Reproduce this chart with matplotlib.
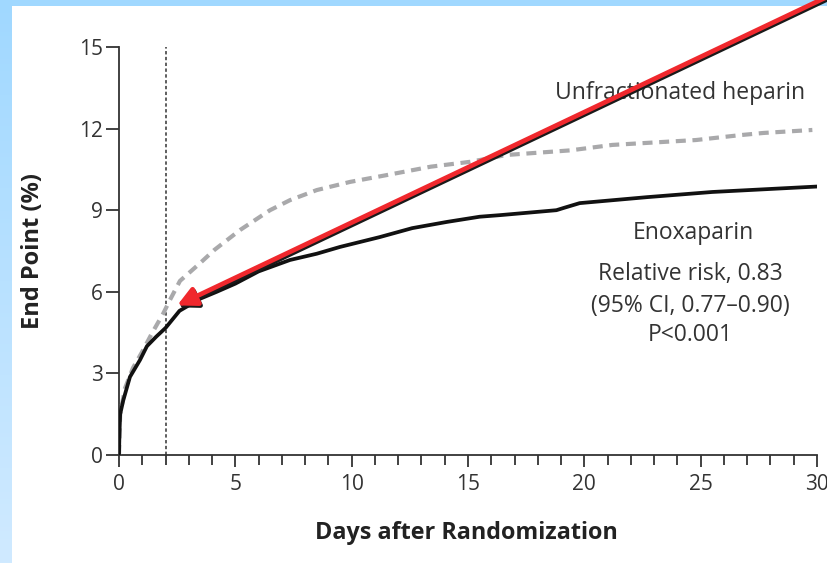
import numpy as np
import matplotlib
matplotlib.use("Agg")
import matplotlib.pyplot as plt
from matplotlib.ticker import MultipleLocator, NullLocator

# Cumulative event rates (%) by day after randomization
days_enox = [0, 0.02, 0.05, 0.18, 0.47, 0.9, 1.2, 1.6, 2.0, 2.6, 3.5, 4.2, 5.0, 6.0,
             7.35, 8.5, 9.5, 11.2, 12.6, 14.1, 15.5, 16.4, 18.8, 19.1, 19.8, 22.7,
             25.5, 30.0]
enoxaparin = [0, 0.8, 1.5, 2.0, 2.87, 3.49, 4.0, 4.35, 4.67, 5.3, 5.75, 6.0, 6.3,
              6.75, 7.17, 7.4, 7.65, 8.01, 8.34, 8.57, 8.76, 8.82, 9.0, 9.08, 9.26,
              9.48, 9.67, 9.87]

days_ufh = [0, 0.05, 0.26, 0.6, 1.0, 1.4, 1.9, 2.19, 2.62, 3.48, 4.1, 5.2, 6.49,
            7.35, 8.5, 9.93, 11.5, 13.4, 15.1, 16.66, 19.4, 21.2, 23.2, 24.8, 26.7,
            27.7, 29.8]
heparin = [0, 1.5, 2.46, 3.2, 3.8, 4.45, 5.2, 5.7, 6.4, 7.05, 7.54, 8.27, 9.0,
           9.37, 9.74, 10.04, 10.29, 10.6, 10.78, 11.03, 11.2, 11.4, 11.5, 11.58,
           11.76, 11.84, 11.95]

x_ticks = [0, 5, 10, 15, 20, 25, 30]
y_ticks = [0, 3, 6, 9, 12, 15]
cutoff_day = 2

arrow_tip = (2.5, 5.5)
arrow_tail = (30.45, 16.85)

FONT = "Open Sans"
TXT = "#333333"

fig = plt.figure(figsize=(8.27, 5.63), dpi=100)
fig.patch.set_facecolor("white")

# light-blue frame: gradient strip on the left, band along the top
W, H = 827, 563
strip = fig.add_axes([0, 0, 12 / W, 1])
grad = np.linspace(0, 1, 256).reshape(-1, 1)
top_c = np.array([160, 216, 255]) / 255
bot_c = np.array([208, 234, 255]) / 255
img = top_c[None, None, :] * (1 - grad[:, :, None]) + bot_c[None, None, :] * grad[:, :, None]
strip.imshow(img, aspect="auto", extent=[0, 1, 0, 1])
strip.set_axis_off()
band = fig.add_axes([0, 1 - 6 / H, 1, 6 / H])
band.set_facecolor(top_c)
band.set_xticks([]); band.set_yticks([])
for s in band.spines.values():
    s.set_visible(False)

ax = fig.add_axes([119 / W, 1 - 455 / H, (817 - 119) / W, (455 - 47) / H])
ax.plot(days_ufh, heparin, color="#a9a9ab", lw=3.0, dashes=(2.4, 1.6),
        solid_capstyle="butt", zorder=3)
ax.plot(days_enox, enoxaparin, color="#111111", lw=2.7, zorder=4)
ax.plot([cutoff_day, cutoff_day], [0, 15], color="#333333", lw=1.1,
        dashes=(2.2, 1.6), zorder=2, clip_on=False)
ax.set_xlim(0, 30)
ax.set_ylim(0, 15)

for s in ("top", "right"):
    ax.spines[s].set_visible(False)
for s in ("left", "bottom"):
    ax.spines[s].set_color("#333333")
    ax.spines[s].set_linewidth(1.3)

ax.xaxis.set_major_locator(matplotlib.ticker.FixedLocator(x_ticks))
ax.xaxis.set_minor_locator(MultipleLocator(1))
ax.yaxis.set_major_locator(matplotlib.ticker.FixedLocator(y_ticks))
ax.yaxis.set_minor_locator(NullLocator())
ax.tick_params(axis="x", which="major", direction="out", length=8.6, width=1.3,
               color="#333333", labelsize=15, labelcolor=TXT, pad=5,
               labelfontfamily=FONT)
ax.tick_params(axis="x", which="minor", direction="out", length=7.2, width=1.3,
               color="#333333", bottom=True)
ax.tick_params(axis="y", which="major", direction="out", length=9.4, width=1.3,
               color="#333333", labelsize=15, labelcolor=TXT, pad=2,
               labelfontfamily=FONT)

fig.text(466 / W, 1 - 533 / H, "Days after Randomization", fontsize=16.8,
         fontweight="bold", family=FONT, color="#222222", ha="center", va="center")
fig.text(33 / W, 1 - 251 / H, "End Point (%)", fontsize=17, rotation=90,
         fontweight="bold", family=FONT, color="#222222", ha="center", va="center")

ax.text(24.1, 13.3, "Unfractionated heparin", fontsize=16.5, family=FONT,
        color=TXT, ha="center", va="center", zorder=6)
ax.text(24.7, 8.15, "Enoxaparin", fontsize=16.5, family=FONT,
        color=TXT, ha="center", va="center", zorder=6)
for yy, line in ((6.65, "Relative risk, 0.83"),
                 (5.48, "(95% CI, 0.77\u20130.90)"),
                 (4.41, "P<0.001")):
    ax.text(24.55, yy, line, fontsize=16.5, family=FONT, color=TXT,
            ha="center", va="center", zorder=6)

# highlighted arrow with a dark shadow
dx, dy = 0.05, -0.07
for (tx, ty), col, z in (((dx, dy), "#1a1a1a", 7), ((0, 0), "#f0282d", 8)):
    ax.annotate("", xy=(arrow_tip[0] + tx, arrow_tip[1] + ty),
                xytext=(arrow_tail[0] + tx, arrow_tail[1] + ty),
                arrowprops=dict(arrowstyle="-|>,head_length=0.75,head_width=0.38",
                                color=col, lw=3.4, mutation_scale=15,
                                shrinkA=0, shrinkB=0),
                annotation_clip=False, zorder=z)

fig.savefig("out.png", dpi=100)
